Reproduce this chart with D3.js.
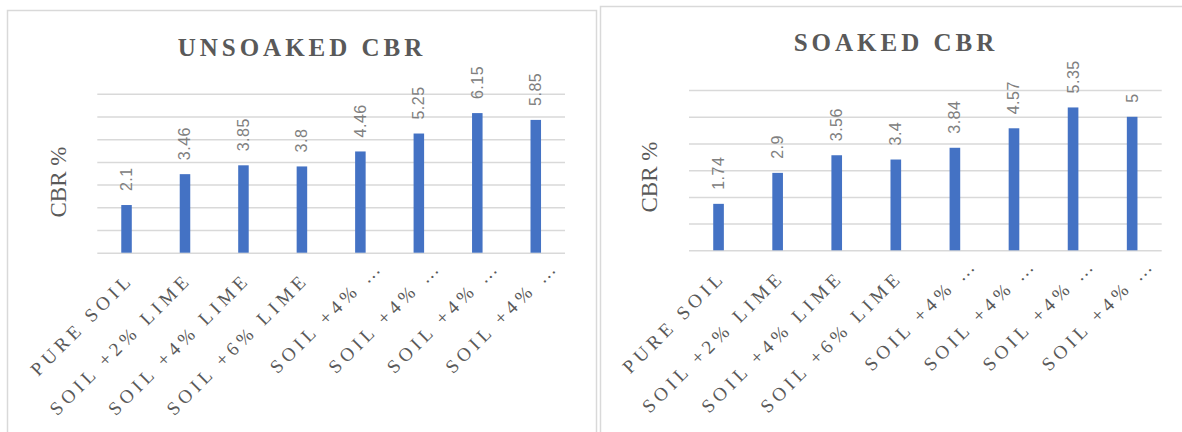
<!DOCTYPE html>
<html>
<head>
<meta charset="utf-8">
<script src="https://cdn.jsdelivr.net/npm/d3@7"></script>
<style>
  body { margin: 0; background: #fff; }
  svg { display: block; }
</style>
</head>
<body>
<div id="container"></div>
<script>
const CATEGORIES = ["PURE SOIL", "SOIL +2% LIME", "SOIL +4% LIME", "SOIL +6% LIME",
                    "SOIL +4% …", "SOIL +4% …", "SOIL +4% …", "SOIL +4% …"];
const UNSOAKED = [2.1, 3.46, 3.85, 3.8, 4.46, 5.25, 6.15, 5.85];
const SOAKED = [1.74, 2.9, 3.56, 3.4, 3.84, 4.57, 5.35, 5];
const UNSOAKED_TICKS = [0, 1, 2, 3, 4, 5, 6, 7];
const SOAKED_TICKS = [0, 1, 2, 3, 4, 5, 6];

const WIDTH = 1182;
const HEIGHT = 432;
const BAR_COLOR = "#4472c4";
const GRID_COLOR = "#d9d9d9";
const TEXT_COLOR = "#595959";
const LABEL_COLOR = "#808080";

const svg = d3.select("#container")
  .append("svg")
  .attr("width", WIDTH)
  .attr("height", HEIGHT);

function drawChart(p) {
  // panel border
  svg.append("rect")
    .attr("x", p.box[0] + 0.5)
    .attr("y", p.box[1] + 0.5)
    .attr("width", p.box[2])
    .attr("height", p.box[3])
    .attr("fill", "#fff")
    .attr("stroke", GRID_COLOR)
    .attr("stroke-width", 1.5);

  const x = d3.scaleBand()
    .domain(d3.range(p.values.length))
    .range([p.left, p.right])
    .paddingInner(0.82)
    .paddingOuter(0.41);
  const y = d3.scaleLinear()
    .domain([0, d3.max(p.ticks)])
    .range([p.base, p.top]);

  // gridlines
  const grid = svg.append("g")
    .attr("transform", "translate(" + p.left + ",0)")
    .call(d3.axisLeft(y).tickValues(p.ticks).tickSize(-(p.right - p.left)).tickFormat(""));
  grid.select(".domain").remove();
  grid.selectAll(".tick line")
    .attr("stroke", GRID_COLOR)
    .attr("stroke-width", 1.5);

  // bars
  svg.append("g").selectAll("rect")
    .data(p.values)
    .enter()
    .append("rect")
    .attr("x", (d, i) => x(i))
    .attr("y", d => y(d))
    .attr("width", x.bandwidth())
    .attr("height", d => y(0) - y(d))
    .attr("fill", BAR_COLOR);

  // value labels
  svg.append("g").selectAll("text")
    .data(p.values)
    .enter()
    .append("text")
    .attr("transform", (d, i) => "translate(" + (x(i) + x.bandwidth() / 2 + 5.5) + "," + (y(d) - 14) + ") rotate(-90)")
    .style("font-family", "'Liberation Sans', Arial, sans-serif")
    .style("font-size", "16px")
    .style("letter-spacing", "0.5px")
    .attr("fill", LABEL_COLOR)
    .text(d => d);

  // category labels
  const xAxis = svg.append("g")
    .attr("transform", "translate(0," + p.base + ")")
    .call(d3.axisBottom(x).tickSize(0).tickFormat(i => CATEGORIES[i]));
  xAxis.select(".domain").remove();
  xAxis.selectAll(".tick text")
    .attr("y", 0)
    .attr("dy", 0)
    .attr("transform", (i) => CATEGORIES[i].endsWith("…")
      ? "translate(24,15) rotate(-45)"
      : "translate(8,28) rotate(-45)")
    .style("text-anchor", "end")
    .style("font-family", "'Liberation Serif', 'Times New Roman', serif")
    .style("font-size", "19px")
    .style("letter-spacing", "4.5px")
    .attr("fill", TEXT_COLOR);

  // title
  svg.append("text")
    .attr("x", p.titleX)
    .attr("y", p.titleY)
    .attr("text-anchor", "middle")
    .style("font-family", "'Liberation Serif', 'Times New Roman', serif")
    .style("font-size", "25px")
    .style("font-weight", "bold")
    .style("letter-spacing", "4px")
    .attr("fill", TEXT_COLOR)
    .text(p.title);

  // y axis title
  svg.append("text")
    .attr("transform", "translate(" + p.yTitleX + "," + p.yTitleY + ") rotate(-90)")
    .attr("text-anchor", "middle")
    .style("font-family", "'Liberation Serif', 'Times New Roman', serif")
    .style("font-size", "23px")
    .attr("fill", TEXT_COLOR)
    .text("CBR %");
}

drawChart({
  title: "UNSOAKED CBR", values: UNSOAKED, ticks: UNSOAKED_TICKS,
  box: [7, 10, 589, 440],
  left: 97.3, right: 565, base: 252.7, top: 93.8,
  titleX: 302, titleY: 56, yTitleX: 66, yTitleY: 182
});
drawChart({
  title: "SOAKED CBR", values: SOAKED, ticks: SOAKED_TICKS,
  box: [600, 6, 600, 440],
  left: 689, right: 1161.7, base: 250.3, top: 90.1,
  titleX: 896, titleY: 51, yTitleX: 657, yTitleY: 177
});
</script>
</body>
</html>
